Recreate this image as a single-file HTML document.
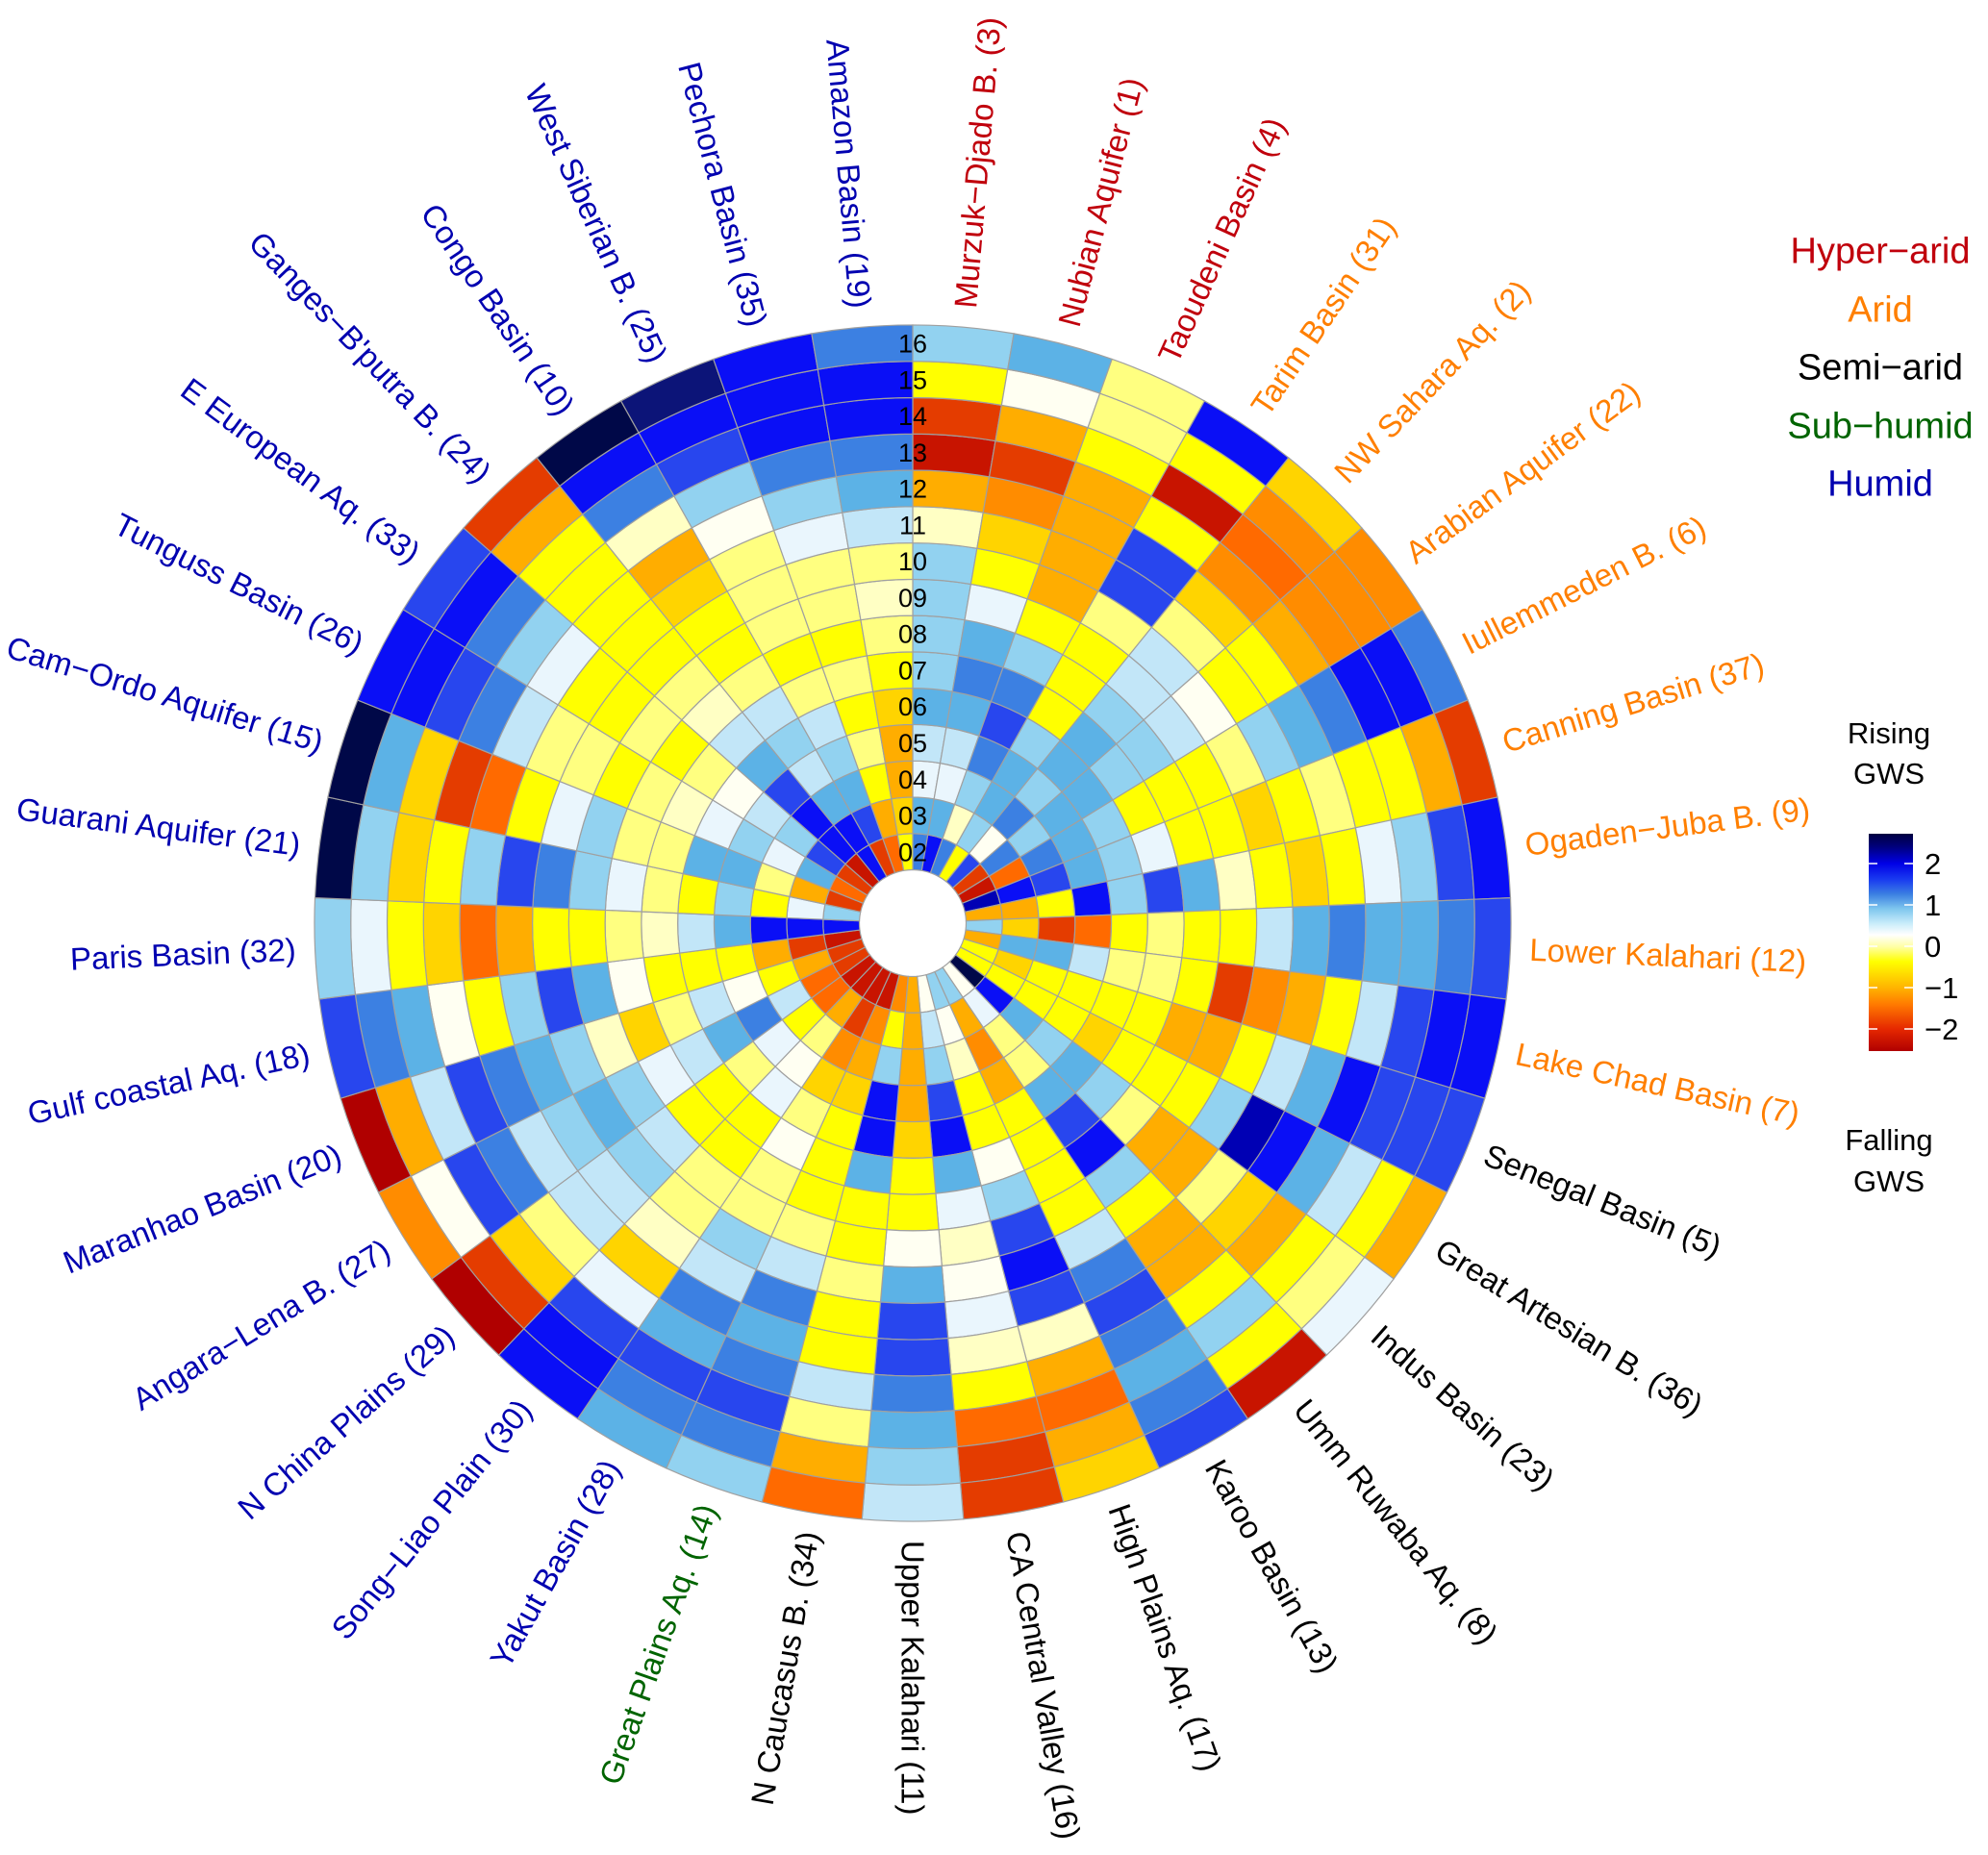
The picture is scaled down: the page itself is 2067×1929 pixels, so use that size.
<!DOCTYPE html>
<html><head><meta charset="utf-8"><style>
html,body{margin:0;padding:0;background:#fff;}
svg{display:block;}
text{font-family:"Liberation Sans",Arial,sans-serif;}
</style></head><body>
<svg id="chart" xmlns="http://www.w3.org/2000/svg" width="2067" height="1929" viewBox="0 0 2067 1929">
<rect x="0" y="0" width="2067" height="1929" fill="#fff"/>
<g id="cells"></g>
<g font-size="27" text-anchor="middle" fill="#000">
<text x="949" y="895.3">02</text>
<text x="949" y="857.5">03</text>
<text x="949" y="819.8">04</text>
<text x="949" y="782.0">05</text>
<text x="949" y="744.2">06</text>
<text x="949" y="706.4">07</text>
<text x="949" y="668.7">08</text>
<text x="949" y="630.9">09</text>
<text x="949" y="593.1">10</text>
<text x="949" y="555.4">11</text>
<text x="949" y="517.6">12</text>
<text x="949" y="479.8">13</text>
<text x="949" y="442.1">14</text>
<text x="949" y="404.3">15</text>
<text x="949" y="366.5">16</text>
</g>
<g transform="translate(949 960)" font-size="33">
<g text-anchor="start">
<text fill="#c0000c" transform="rotate(-85.135) translate(642 0)" dy=".35em">Murzuk−Djado B. (3)</text>
<text fill="#c0000c" transform="rotate(-75.405) translate(642 0)" dy=".35em">Nubian Aquifer (1)</text>
<text fill="#c0000c" transform="rotate(-65.676) translate(642 0)" dy=".35em">Taoudeni Basin (4)</text>
<text fill="#ff7f00" transform="rotate(-55.946) translate(642 0)" dy=".35em">Tarim Basin (31)</text>
<text fill="#ff7f00" transform="rotate(-46.216) translate(642 0)" dy=".35em">NW Sahara Aq. (2)</text>
<text fill="#ff7f00" transform="rotate(-36.486) translate(642 0)" dy=".35em">Arabian Aquifer (22)</text>
<text fill="#ff7f00" transform="rotate(-26.757) translate(642 0)" dy=".35em">Iullemmeden B. (6)</text>
<text fill="#ff7f00" transform="rotate(-17.027) translate(642 0)" dy=".35em">Canning Basin (37)</text>
<text fill="#ff7f00" transform="rotate(-7.297) translate(642 0)" dy=".35em">Ogaden−Juba B. (9)</text>
<text fill="#ff7f00" transform="rotate(2.432) translate(642 0)" dy=".35em">Lower Kalahari (12)</text>
<text fill="#ff7f00" transform="rotate(12.162) translate(642 0)" dy=".35em">Lake Chad Basin (7)</text>
<text fill="#000" transform="rotate(21.892) translate(642 0)" dy=".35em">Senegal Basin (5)</text>
<text fill="#000" transform="rotate(31.622) translate(642 0)" dy=".35em">Great Artesian B. (36)</text>
<text fill="#000" transform="rotate(41.351) translate(642 0)" dy=".35em">Indus Basin (23)</text>
<text fill="#000" transform="rotate(51.081) translate(642 0)" dy=".35em">Umm Ruwaba Aq. (8)</text>
<text fill="#000" transform="rotate(60.811) translate(642 0)" dy=".35em">Karoo Basin (13)</text>
<text fill="#000" transform="rotate(70.541) translate(642 0)" dy=".35em">High Plains Aq. (17)</text>
<text fill="#000" transform="rotate(80.270) translate(642 0)" dy=".35em">CA Central Valley (16)</text>
<text fill="#000" transform="rotate(90) translate(642 0)" dy=".35em">Upper Kalahari (11)</text>
</g>
<g text-anchor="end">
<text fill="#000" transform="rotate(-80.270) translate(-642 0)" dy=".35em">N Caucasus B. (34)</text>
<text fill="#006400" transform="rotate(-70.541) translate(-642 0)" dy=".35em">Great Plains Aq. (14)</text>
<text fill="#0000b0" transform="rotate(-60.811) translate(-642 0)" dy=".35em">Yakut Basin (28)</text>
<text fill="#0000b0" transform="rotate(-51.081) translate(-642 0)" dy=".35em">Song−Liao Plain (30)</text>
<text fill="#0000b0" transform="rotate(-41.351) translate(-642 0)" dy=".35em">N China Plains (29)</text>
<text fill="#0000b0" transform="rotate(-31.622) translate(-642 0)" dy=".35em">Angara−Lena B. (27)</text>
<text fill="#0000b0" transform="rotate(-21.892) translate(-642 0)" dy=".35em">Maranhao Basin (20)</text>
<text fill="#0000b0" transform="rotate(-12.162) translate(-642 0)" dy=".35em">Gulf coastal Aq. (18)</text>
<text fill="#0000b0" transform="rotate(-2.432) translate(-642 0)" dy=".35em">Paris Basin (32)</text>
<text fill="#0000b0" transform="rotate(7.297) translate(-642 0)" dy=".35em">Guarani Aquifer (21)</text>
<text fill="#0000b0" transform="rotate(17.027) translate(-642 0)" dy=".35em">Cam−Ordo Aquifer (15)</text>
<text fill="#0000b0" transform="rotate(26.757) translate(-642 0)" dy=".35em">Tunguss Basin (26)</text>
<text fill="#0000b0" transform="rotate(36.486) translate(-642 0)" dy=".35em">E European Aq. (33)</text>
<text fill="#0000b0" transform="rotate(46.216) translate(-642 0)" dy=".35em">Ganges−B'putra B. (24)</text>
<text fill="#0000b0" transform="rotate(55.946) translate(-642 0)" dy=".35em">Congo Basin (10)</text>
<text fill="#0000b0" transform="rotate(65.676) translate(-642 0)" dy=".35em">West Siberian B. (25)</text>
<text fill="#0000b0" transform="rotate(75.405) translate(-642 0)" dy=".35em">Pechora Basin (35)</text>
<text fill="#0000b0" transform="rotate(85.135) translate(-642 0)" dy=".35em">Amazon Basin (19)</text>
</g>
</g>
<g font-size="38" text-anchor="middle">
<text x="1955" y="273.5" fill="#c0000c">Hyper−arid</text>
<text x="1955" y="334.5" fill="#ff7f00">Arid</text>
<text x="1955" y="394.5" fill="#000">Semi−arid</text>
<text x="1955" y="455.5" fill="#006400">Sub−humid</text>
<text x="1955" y="515.5" fill="#0000b0">Humid</text>
</g>
<g font-size="31" text-anchor="middle" fill="#000">
<text x="1964" y="773">Rising</text>
<text x="1964" y="815">GWS</text>
<text x="1964" y="1196">Falling</text>
<text x="1964" y="1239">GWS</text>
</g>
<defs>
<linearGradient id="cb" gradientUnits="userSpaceOnUse" x1="0" y1="867" x2="0" y2="1093">
<stop offset="0" stop-color="#000040"/>
<stop offset="0.058" stop-color="#00007a"/>
<stop offset="0.137" stop-color="#0000e6"/>
<stop offset="0.212" stop-color="#1a3cf0"/>
<stop offset="0.279" stop-color="#3c80e2"/>
<stop offset="0.345" stop-color="#7ec6ee"/>
<stop offset="0.412" stop-color="#c8ecfa"/>
<stop offset="0.465" stop-color="#ffffff"/>
<stop offset="0.522" stop-color="#ffffa0"/>
<stop offset="0.588" stop-color="#ffff00"/>
<stop offset="0.708" stop-color="#ffb400"/>
<stop offset="0.788" stop-color="#ff7800"/>
<stop offset="0.898" stop-color="#e62800"/>
<stop offset="1" stop-color="#b00000"/>
</linearGradient>
</defs>
<rect x="1943" y="867" width="46" height="226" fill="url(#cb)"/>
<g stroke="#fff" stroke-width="1.5">
<line x1="1943" y1="898" x2="1952" y2="898"/><line x1="1980" y1="898" x2="1989" y2="898"/>
<line x1="1943" y1="941" x2="1952" y2="941"/><line x1="1980" y1="941" x2="1989" y2="941"/>
<line x1="1943" y1="984" x2="1952" y2="984"/><line x1="1980" y1="984" x2="1989" y2="984"/>
<line x1="1943" y1="1027" x2="1952" y2="1027"/><line x1="1980" y1="1027" x2="1989" y2="1027"/>
<line x1="1943" y1="1070" x2="1952" y2="1070"/><line x1="1980" y1="1070" x2="1989" y2="1070"/>
</g>
<g font-size="31" fill="#000" text-anchor="start">
<text x="2001" y="909">2</text>
<text x="2001" y="952">1</text>
<text x="2001" y="995">0</text>
<text x="2001" y="1038">−1</text>
<text x="2001" y="1081">−2</text>
</g>
</svg>
<script>
(function(){
var cx=949,cy=960,r0=55.5,dr=37.77,n=37;
var C={X:'#b00000',R:'#c81400',r:'#e43c00',O:'#ff6a00',q:'#ff8c00',o:'#ffad00',g:'#ffd400',Y:'#ffff00',y:'#ffff80',c:'#ffffc4',w:'#fffff2',W:'#eaf6fd',p:'#c2e6f8',l:'#92d2f0',s:'#5cb2e6',m:'#3c80e2',b:'#2846ee',B:'#0a0ff6',D:'#0000b4',n:'#0c1478',N:'#000848'};
var D=[
"msWpsllllcoRrYl",
"BsWpsmsWYgqrows",
"mclmbmlYooooYyy",
"YlsslYYYybbYRYB",
"bwmlsslppygqOqg",
"rmlssllpwYYoqqq",
"ROmslYYYylsmBBm",
"DBbslWYYgYyYYor",
"ooYBlbscYgYWlbB",
"lgrOYyYYpsmssmb",
"osspyyYrqoYpbBB",
"YgYYYYooYpsBbbb",
"YYYYgYYYlDBspYo",
"NBslslyooygoYyW",
"wWyysbBlYooYlYR",
"loqoYYYYpmbmsmb",
"lwcYYwlbBbcoOog",
"wplbBsWcwWcYOrr",
"oooogYYwsbbmslp",
"qYlBBsYYyYYpyoO",
"RqogYYYypmsmbml",
"Rrqgywyylpmsbms",
"RoywWYYyycgWbBB",
"ROYWyYYplppygrX",
"rOpmspWlslpmbwq",
"roYwpygclsmbpoX",
"RroYYYwsblYwsmb",
"BBBspcyYYoOgYWl",
"lWYlYyWlmblYglN",
"royssyylWYOrgsN",
"OsWlWcyYyypmbBB",
"rblpwyYyYYWlmBb",
"RBBbspcyYYYYYor",
"BBsplpyYYgocmBN",
"rbslpyYyyywlbBn",
"OoYyYyYyyWlmBBB",
"YgoogYycypsmBBm"];
function pt(r,a){var t=a*Math.PI/180;return (cx+r*Math.sin(t)).toFixed(2)+' '+(cy-r*Math.cos(t)).toFixed(2);}
var s='';
for(var j=0;j<n;j++){
 var a1=j*360/n,a2=(j+1)*360/n;
 for(var i=0;i<15;i++){
  var ri=r0+i*dr,ro=ri+dr;
  var col=C[D[j].charAt(i)]||'#fff';
  s+='<path d="M'+pt(ro,a1)+' A'+ro.toFixed(2)+' '+ro.toFixed(2)+' 0 0 1 '+pt(ro,a2)+' L'+pt(ri,a2)+' A'+ri.toFixed(2)+' '+ri.toFixed(2)+' 0 0 0 '+pt(ri,a1)+' Z" fill="'+col+'" stroke="#a0a0a0" stroke-width="1.2"/>';
 }
}
document.getElementById('cells').innerHTML=s;
})();
</script>
</body></html>
